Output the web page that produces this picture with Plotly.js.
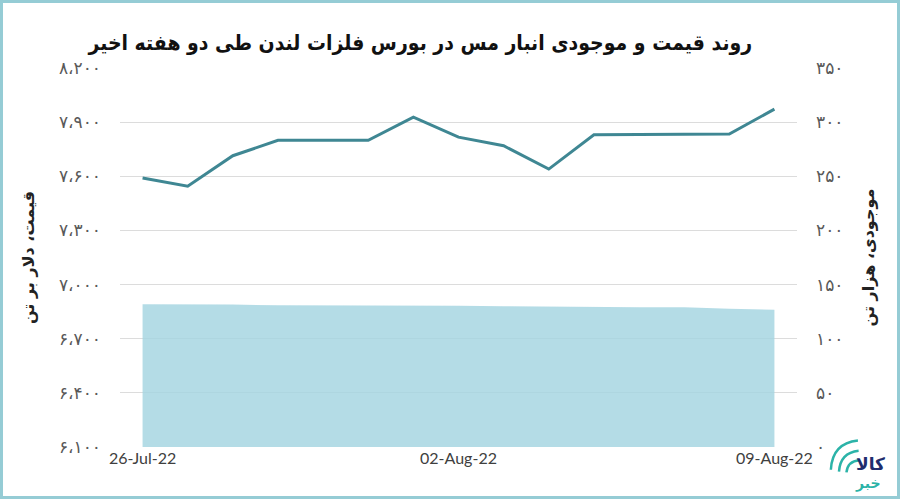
<!DOCTYPE html>
<html>
<head>
<meta charset="utf-8">
<script src="https://cdn.plot.ly/plotly-3.0.1.min.js"></script>
<style>
  body { margin: 0; background: #fff; }
  #chart { width: 900px; height: 499px; }
  #frame { position: absolute; left: 0; top: 0; width: 900px; height: 499px;
           box-sizing: border-box; border: 3px solid #95ccd5; pointer-events: none; }
</style>
</head>
<body>
<div id="chart"></div>
<div id="frame"></div>
<script>
// daily values, 26 Jul 2022 .. 09 Aug 2022
const dates = [
    "2022-07-26", "2022-07-27", "2022-07-28", "2022-07-29", "2022-07-30",
    "2022-07-31", "2022-08-01", "2022-08-02", "2022-08-03", "2022-08-04",
    "2022-08-05", "2022-08-06", "2022-08-07", "2022-08-08", "2022-08-09"
];
// copper price, $ per tonne (left axis)
const price = [7591, 7545, 7714, 7799, 7799, 7799, 7928, 7817, 7769, 7640, 7830, 7830, 7830, 7834, 7972];
// LME copper stock, thousand tonnes (right axis)
const stock = [131.8, 131.8, 131.5, 130.8, 130.8, 130.8, 130.6, 130.4, 130.0, 129.6, 129.1, 129.1, 129.1, 127.6, 126.8];

const xTickVals = ["2022-07-26", "2022-08-02", "2022-08-09"];
const xTickText = ["26-Jul-22", "02-Aug-22", "09-Aug-22"];

const priceTicks = [6100, 6400, 6700, 7000, 7300, 7600, 7900, 8200];
const priceTickText = ["۶،۱۰۰", "۶،۴۰۰", "۶،۷۰۰", "۷،۰۰۰", "۷،۳۰۰", "۷،۶۰۰", "۷،۹۰۰", "۸،۲۰۰"];
const stockTicks = [0, 50, 100, 150, 200, 250, 300, 350];
const stockTickText = ["۰", "۵۰", "۱۰۰", "۱۵۰", "۲۰۰", "۲۵۰", "۳۰۰", "۳۵۰"];

const faFont = "DejaVu Sans, Noto Sans, sans-serif";
const faCond = "DejaVu Sans Condensed, DejaVu Sans, sans-serif";

let stockTrace = {
    x: dates,
    y: stock,
    yaxis: "y2",
    type: "scatter",
    mode: "lines",
    fill: "tozeroy",
    fillcolor: "rgba(163,212,225,0.82)",
    line: { width: 0, color: "rgba(163,212,225,0.82)" },
    hoverinfo: "skip"
};

let priceTrace = {
    x: dates,
    y: price,
    type: "scatter",
    mode: "lines",
    line: { color: "#3f8793", width: 3 }
};

const arc = "#2bb3a8";

let layout = {
    width: 900,
    height: 499,
    margin: { l: 120, r: 103, t: 68, b: 52 },
    paper_bgcolor: "#ffffff",
    plot_bgcolor: "#ffffff",
    showlegend: false,
    title: {
        text: "<b>روند قیمت و موجودی انبار مس در بورس فلزات لندن طی دو هفته اخیر</b>",
        font: { family: faCond, size: 21, color: "#111111" },
        x: 0.467,
        xanchor: "center",
        y: 0.915,
        yanchor: "middle"
    },
    xaxis: {
        type: "date",
        range: ["2022-07-25 12:00", "2022-08-09 12:00"],
        tickvals: xTickVals,
        ticktext: xTickText,
        showgrid: false,
        zeroline: false,
        showline: false,
        ticks: "",
        tickfont: { family: "Lato, Open Sans, sans-serif", size: 16, color: "#404040" }
    },
    yaxis: {
        range: [6100, 8200],
        tickvals: priceTicks,
        ticktext: priceTickText,
        showgrid: true,
        gridcolor: "#dcdcdc",
        gridwidth: 1,
        zeroline: false,
        ticks: "",
        ticklabelstandoff: 18,
        tickfont: { family: faFont, size: 17, color: "#595959" },
        title: {
            text: "<b>قیمت، دلار بر تن</b>",
            font: { family: faFont, size: 16, color: "#222222" },
            standoff: 20
        }
    },
    yaxis2: {
        overlaying: "y",
        side: "right",
        range: [0, 350],
        tickvals: stockTicks,
        ticktext: stockTickText,
        showgrid: false,
        zeroline: false,
        ticks: "",
        ticklabelstandoff: 18,
        tickfont: { family: faFont, size: 17, color: "#595959" },
        title: {
            text: "<b>موجودی، هزار تن</b>",
            font: { family: faFont, size: 16, color: "#222222" },
            standoff: 20
        }
    },
    shapes: [
        // logo signal arcs
        { type: "path", xref: "paper", yref: "paper", layer: "above",
          path: "M 1.050 -0.060 Q 1.052 0.010 1.090 0.017", line: { color: arc, width: 2.5 } },
        { type: "path", xref: "paper", yref: "paper", layer: "above",
          path: "M 1.062 -0.065 Q 1.064 -0.015 1.091 -0.010", line: { color: arc, width: 2.5 } },
        { type: "path", xref: "paper", yref: "paper", layer: "above",
          path: "M 1.073 -0.067 Q 1.075 -0.037 1.092 -0.035", line: { color: arc, width: 2.5 } }
    ],
    annotations: [
        { xref: "paper", yref: "paper", x: 1.108, y: -0.045, xanchor: "center", yanchor: "middle",
          text: "<b>کالا</b>", showarrow: false, borderpad: 0,
          font: { family: faFont, size: 17, color: "#1f2d6e" } },
        { xref: "paper", yref: "paper", x: 1.105, y: -0.095, xanchor: "center", yanchor: "middle",
          text: "<b>خبر</b>", showarrow: false, borderpad: 0,
          font: { family: faFont, size: 14, color: arc } }
    ]
};

Plotly.newPlot("chart", [stockTrace, priceTrace], layout, { displayModeBar: false, staticPlot: true });
</script>
</body>
</html>
